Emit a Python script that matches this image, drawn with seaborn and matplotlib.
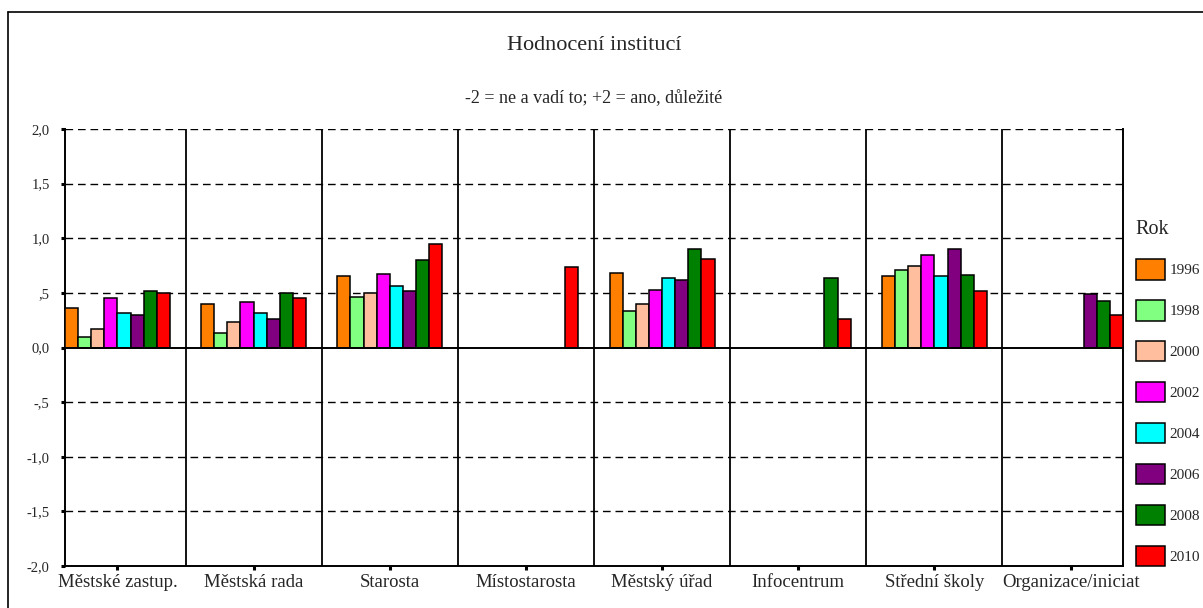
import matplotlib
matplotlib.use('Agg')
import matplotlib.pyplot as plt
import seaborn as sns
import numpy as np
import pandas as pd
from matplotlib.lines import Line2D

instituce = ['Městské zastup.', 'Městská rada', 'Starosta', 'Místostarosta',
             'Městský úřad', 'Infocentrum', 'Střední školy', 'Organizace/iniciat']
roky = ['1996', '1998', '2000', '2002', '2004', '2006', '2008', '2010']

r1996 = [0.36, 0.40, 0.65, None, 0.68, None, 0.65, None]
r1998 = [0.10, 0.13, 0.46, None, 0.33, None, 0.71, None]
r2000 = [0.17, 0.23, 0.50, None, 0.40, None, 0.75, None]
r2002 = [0.45, 0.42, 0.67, None, 0.53, None, 0.85, None]
r2004 = [0.32, 0.32, 0.56, None, 0.64, None, 0.65, None]
r2006 = [0.30, 0.26, 0.52, None, 0.62, None, 0.90, 0.49]
r2008 = [0.52, 0.50, 0.80, None, 0.90, 0.64, 0.66, 0.43]
r2010 = [0.50, 0.45, 0.95, 0.74, 0.81, 0.26, 0.52, 0.30]

barvy = ['#FF8000', '#80FF80', '#FFBF9F', '#FF00FF', '#00FFFF', '#800080', '#008000', '#FF0000']
yticks = [-2.0, -1.5, -1.0, -0.5, 0.0, 0.5, 1.0, 1.5, 2.0]
ytick_labels = ['-2,0', '-1,5', '-1,0', '-,5', '0,0', ',5', '1,0', '1,5', '2,0']

rows = []
for rok, vals in zip(roky, [r1996, r1998, r2000, r2002, r2004, r2006, r2008, r2010]):
    for inst, v in zip(instituce, vals):
        if v is not None:
            rows.append({'instituce': inst, 'rok': rok, 'hodnota': v})
df = pd.DataFrame(rows)

sns.set_style('white')
plt.rcParams['font.family'] = ['Liberation Serif', 'DejaVu Serif']

fig = plt.figure(figsize=(12.03, 6.08), dpi=100)
ax = fig.add_axes([65 / 1203, 1 - 566 / 608, (1123 - 65) / 1203, (566 - 129) / 608])

# grid first so bars sit on top
for y in [-1.5, -1.0, -0.5, 0.5, 1.0, 1.5, 2.0]:
    ax.axhline(y, color='black', lw=1.0, linestyle=(0, (5.5, 3.5)), zorder=0)
for x in np.arange(0.5, 7, 1):
    ax.axvline(x, color='black', lw=1.3, zorder=0)

sns.barplot(data=df, x='instituce', y='hodnota', hue='rok', order=instituce,
            hue_order=roky, palette=barvy, saturation=1, width=0.77, edgecolor='black',
            linewidth=1.1, errorbar=None, ax=ax, zorder=3)
ax.axhline(0, color='black', lw=1.4, zorder=4)

ax.set_xlim(-0.385, 7.385)
ax.set_ylim(-2, 2)
ax.set_yticks(yticks)
ax.set_yticklabels(ytick_labels, fontsize=10.5)
ax.set_xticks(range(len(instituce)))
ax.set_xticklabels(instituce, fontsize=13.5)
ax.set_xlabel('')
ax.set_ylabel('')
ax.tick_params(axis='both', direction='out', length=3, width=2.2, color='black',
               bottom=True, left=True)
ax.tick_params(axis='x', pad=3)
ax.tick_params(axis='y', pad=8)
for s in ['left', 'bottom', 'right']:
    ax.spines[s].set_visible(True)
    ax.spines[s].set_color('black')
    ax.spines[s].set_linewidth(1.4)
ax.spines['top'].set_visible(False)

handles, labels = ax.get_legend_handles_labels()
leg = ax.legend(handles, labels, title='Rok', loc='upper left',
                bbox_to_anchor=(1128 / 1203, 1 - 212 / 608), bbox_transform=fig.transFigure,
                frameon=False, fontsize=11, title_fontsize=14.5, borderpad=0,
                handlelength=1.95, handleheight=1.67, handletextpad=0.25,
                labelspacing=1.35, alignment='left')
for h in leg.legend_handles:
    h.set_edgecolor('black')
    h.set_linewidth(1.1)

fig.text(594 / 1203, 1 - 45 / 608, 'Hodnocení institucí', fontsize=16, ha='center', va='center')
fig.text(594 / 1203, 1 - 99 / 608, '-2 = ne a vadí to; +2 = ano, důležité', fontsize=13,
         ha='center', va='center')

fig.add_artist(Line2D([8 / 1203, 8 / 1203], [0, 1 - 12 / 608], color='black', lw=1.2,
                      transform=fig.transFigure))
fig.add_artist(Line2D([8 / 1203, 1], [1 - 12 / 608, 1 - 12 / 608], color='black', lw=1.2,
                      transform=fig.transFigure))

fig.savefig('out.png', dpi=100)
